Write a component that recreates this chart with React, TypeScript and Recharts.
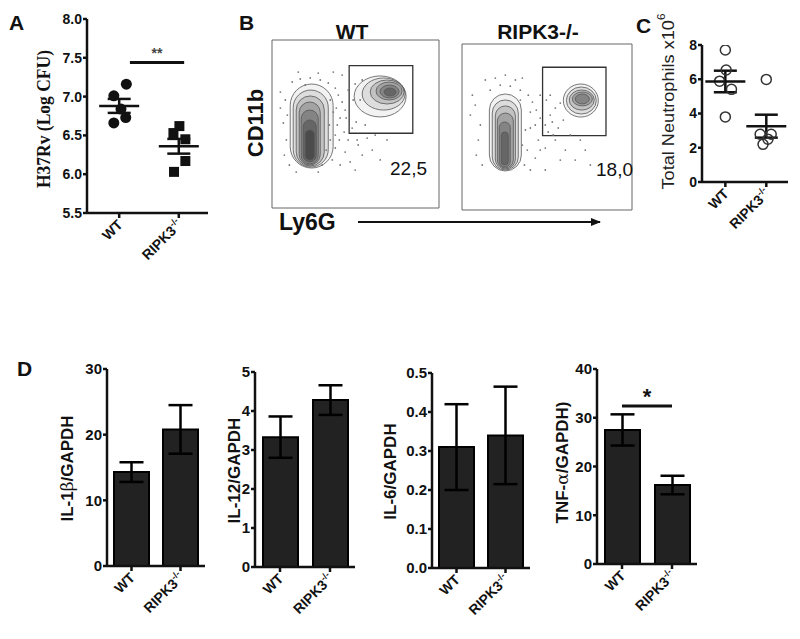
import React from 'react';
import {
  ScatterChart, Scatter, BarChart, Bar, XAxis, YAxis, ErrorBar,
  ReferenceLine, ReferenceArea,
} from 'recharts';

const FONT = 'Arial, "Liberation Sans", sans-serif';
const groups = ['WT', 'RIPK3'];

// A - H37Rv burden (log CFU), points + x jitter
const cfuWT = [7.16, 7.01, 6.84, 6.73, 6.66];
const cfuWTx = [1.12, 0.91, 1.03, 1.11, 0.91];
const cfuKO = [6.62, 6.53, 6.45, 6.17, 6.03];
const cfuKOx = [2.01, 1.91, 2.11, 2.11, 1.92];
const cfuMean = [6.88, 6.36];
const cfuSem = [0.09, 0.095];
const cfuTicks = [5.5, 6, 6.5, 7, 7.5, 8];

// C - total neutrophils x10^6
const neuWT = [7.71, 6.54, 5.89, 5.41, 3.8];
const neuWTx = [1.0, 1.02, 0.86, 1.15, 1.0];
const neuKO = [5.99, 2.79, 2.79, 2.5, 2.2];
const neuKOx = [2.0, 1.85, 2.12, 2.04, 1.92];
const neuMean = [5.87, 3.26];
const neuSem = [0.63, 0.67];
const neuTicks = [0, 2, 4, 6, 8];

// D - cytokine mRNA / GAPDH (mean, sem)
const il1b = [14.3, 20.8];
const il1bErr = [1.5, 3.7];
const il12 = [3.33, 4.28];
const il12Err = [0.53, 0.38];
const il6 = [0.31, 0.34];
const il6Err = [0.11, 0.125];
const tnf = [27.5, 16.2];
const tnfErr = [3.2, 1.9];

// B - flow plots, channel units 0..1000; contour rings [x1, x2, y1, y2]
const gateFreq = ['22,5', '18,0'];
const wtGate = [462, 843, 445, 847];
const koGate = [474, 847, 448, 860];
const wtLeftRings = [
  [109, 366, 238, 738], [127, 337, 244, 702], [145, 313, 250, 667], [163, 289, 256, 631],
  [175, 277, 262, 583], [187, 265, 274, 524], [199, 253, 286, 464],
];
const wtRightRings = [
  [492, 803, 542, 786], [540, 797, 583, 774], [588, 791, 619, 762],
  [623, 779, 643, 750], [647, 761, 655, 732], [671, 743, 667, 714],
];
const koLeftRings = [
  [161, 349, 235, 699], [178, 331, 241, 663], [196, 314, 247, 627],
  [208, 302, 253, 584], [219, 284, 259, 530], [231, 272, 271, 470],
];
const koRightRings = [
  [596, 802, 560, 759], [614, 790, 578, 741], [631, 778, 602, 723],
  [649, 767, 627, 711], [666, 749, 639, 699],
];
const wtEvents = [
  [50, 595], [80, 643], [92, 553], [68, 506], [121, 750], [169, 768], [229, 774], [289, 762],
  [337, 744], [379, 714], [397, 672], [420, 631], [438, 583], [408, 536], [391, 494], [432, 452],
  [456, 405], [480, 476], [504, 512], [403, 405], [379, 357], [438, 333], [516, 375], [540, 315],
  [600, 345], [648, 286], [468, 274], [361, 286], [349, 405], [385, 595], [456, 702], [498, 738],
  [540, 762], [367, 809], [277, 803], [157, 809], [510, 405], [570, 416], [444, 536], [486, 643],
  [349, 643], [367, 571], [343, 494], [379, 434], [325, 345], [301, 256], [408, 256], [498, 226],
  [86, 405], [74, 315], [104, 256], [145, 214], [277, 214], [528, 643], [558, 494], [420, 791],
  [199, 732], [50, 690], [618, 434], [689, 405],
];
const koEvents = [
  [49, 572], [78, 632], [108, 512], [166, 722], [225, 752], [284, 746], [343, 722], [390, 692],
  [414, 650], [437, 602], [460, 554], [490, 512], [519, 572], [549, 614], [578, 644], [507, 470],
  [449, 421], [402, 494], [384, 361], [431, 313], [490, 373], [549, 421], [608, 361], [666, 301],
  [725, 361], [367, 271], [402, 590], [460, 692], [531, 530], [566, 494], [355, 795], [255, 813],
  [137, 783], [596, 542], [637, 452], [496, 662],
  [96, 421], [84, 331], [119, 271], [373, 482], [355, 391], [402, 241], [490, 241], [578, 301],
  [519, 692], [314, 783], [196, 795], [61, 692], [696, 421], [755, 271], [460, 361], [343, 662],
  [537, 452], [431, 512],
];
const wtYTicks = [71, 216, 341, 593, 802];
const koYTicks = [80, 211, 347, 592, 808];
const flowXTicks = [229, 557, 867];

const pts = (ys: number[], xs: number[]) => ys.map((y, i) => ({ x: xs[i], y }));
const means = (m: number[], s: number[]) => m.map((y, i) => ({ x: i + 1, y, e: s[i] }));
const bars = (v: number[], e: number[]) => groups.map((g, i) => ({ name: g, value: v[i], err: e[i] }));

const axisLine = { stroke: '#111', strokeWidth: 2.5 };
const tickText = { fontSize: 14, fontWeight: 'bold', fill: '#111', fontFamily: FONT };
const tickTextD = { ...tickText, fontSize: 15 };

function GroupTick({ x, y, payload }: any) {
  const v = payload.value;
  const name = typeof v === 'number' ? groups[v - 1] : v;
  return (
    <g transform={`translate(${x},${y})`}>
      <text x={-1} y={7} textAnchor="end" transform="rotate(-45)" fontSize={14}
        fontWeight="bold" fontFamily={FONT} fill="#111">
        {name === 'WT' ? 'WT' : (<>RIPK3<tspan fontSize={9} dy={-6}>-/-</tspan></>)}
      </text>
    </g>
  );
}

const yTitle = (content: React.ReactNode, dx: number, dy: number, style: any) => ({
  content: ({ viewBox }: any) => {
    const vb = viewBox || { x: 0, y: 0, width: 0, height: 0 };
    const cx = vb.x + dx;
    const cy = vb.y + vb.height / 2 + dy;
    return (
      <text x={cx} y={cy} transform={`rotate(-90 ${cx} ${cy})`} textAnchor="middle"
        dominantBaseline="central" {...style}>{content}</text>
    );
  },
});

const meanShape = (p: any) => (
  <line x1={p.cx - 20} x2={p.cx + 20} y1={p.cy} y2={p.cy} stroke="#111" strokeWidth={2.5} />
);

function DotPanel({ left, width, height, margin, yWidth, xDomain, yDomain, ticks, fmt, wt, ko,
  m, sig, title, wtShape, koShape }: any) {
  return (
    <div style={{ position: 'absolute', left, top: 0 }}>
      <ScatterChart width={width} height={height} margin={margin}>
        <XAxis type="number" dataKey="x" domain={xDomain} ticks={[1, 2]} interval={0} height={70}
          axisLine={axisLine} tickLine={axisLine} tickSize={5} tick={<GroupTick />} allowDataOverflow />
        <YAxis type="number" dataKey="y" domain={yDomain} ticks={ticks} interval={0} width={yWidth}
          axisLine={axisLine} tickLine={axisLine} tickSize={4} tickMargin={1} tick={tickText}
          tickFormatter={fmt} label={title} allowDataOverflow />
        <ReferenceLine segment={sig.seg} stroke="#111" strokeWidth={3}
          label={{ value: sig.text, position: 'top', offset: 4, fontSize: 14, fill: '#444', fontWeight: 'bold' }} />
        <Scatter data={wt} shape={wtShape} isAnimationActive={false} />
        <Scatter data={ko} shape={koShape} isAnimationActive={false} />
        <Scatter data={m} shape={meanShape} isAnimationActive={false}>
          <ErrorBar dataKey="e" direction="y" width={11.5} stroke="#111" strokeWidth={2.5} />
        </Scatter>
      </ScatterChart>
    </div>
  );
}

function BarPanel({ left, width, yWidth, plotTop, plotBottom, data, domain, ticks, fmt, title, sig }: any) {
  const top = 360;
  const height = 279;
  const mb = 639 - plotBottom - 64;
  return (
    <div style={{ position: 'absolute', left, top }}>
      <BarChart width={width} height={height} data={data}
        margin={{ top: plotTop - top, right: 5, bottom: mb, left: 0 }}>
        <XAxis dataKey="name" height={64} axisLine={axisLine} tickLine={axisLine} tickSize={5}
          tick={<GroupTick />} interval={0} />
        <YAxis domain={domain} ticks={ticks} interval={0} width={yWidth} axisLine={axisLine}
          tickLine={axisLine} tickSize={4} tickMargin={1} tick={tickTextD} tickFormatter={fmt}
          label={title} allowDataOverflow />
        <Bar dataKey="value" barSize={35} fill="#222" stroke="#000" strokeWidth={2} isAnimationActive={false}>
          <ErrorBar dataKey="err" width={12} stroke="#000" strokeWidth={2.5} />
        </Bar>
        {sig && (
          <ReferenceLine segment={sig} stroke="#111" strokeWidth={3}
            label={{ value: '*', position: 'top', offset: 2, fontSize: 22, fill: '#111', fontWeight: 'bold' }} />
        )}
      </BarChart>
    </div>
  );
}

// contour rings get darker towards the core
const ringStyle = (i: number) => ({
  fill: '#000', fillOpacity: 0.05 + i * 0.035, stroke: '#555', strokeWidth: 0.8,
});
const stadium = (i: number) => (p: any) => (
  <rect x={p.x} y={p.y} width={p.width} height={p.height} rx={p.width / 2} ry={p.width / 2} {...ringStyle(i)} />
);
const oval = (i: number) => (p: any) => (
  <ellipse cx={p.x + p.width / 2} cy={p.y + p.height / 2} rx={p.width / 2} ry={p.height / 2} {...ringStyle(i)} />
);
const eventDot = (p: any) => <circle cx={p.cx} cy={p.cy} r={0.9} fill="#777" />;
const blank = () => <g />;

function FlowPlot({ left, top, width, height, margin, gate, leftRings, rightRings, events, yTicks }: any) {
  const thin = { stroke: '#555', strokeWidth: 1 };
  return (
    <div style={{ position: 'absolute', left, top }}>
      <ScatterChart width={width} height={height} margin={margin}>
        <XAxis type="number" dataKey="x" domain={[0, 1000]} ticks={flowXTicks} height={0}
          axisLine={thin} tickLine={thin} tickSize={3} tick={blank} />
        <YAxis type="number" dataKey="y" domain={[0, 1000]} ticks={yTicks} width={0}
          axisLine={thin} tickLine={thin} tickSize={3} tick={blank} />
        <ReferenceArea x1={0} x2={1000} y1={0} y2={1000} fill="none" stroke="#666" strokeWidth={1} />
        <Scatter data={events.map(([x, y]: number[]) => ({ x, y }))} shape={eventDot} isAnimationActive={false} />
        {leftRings.map((r: number[], i: number) => (
          <ReferenceArea key={'l' + i} x1={r[0]} x2={r[1]} y1={r[2]} y2={r[3]} shape={stadium(i)} />
        ))}
        {rightRings.map((r: number[], i: number) => (
          <ReferenceArea key={'r' + i} x1={r[0]} x2={r[1]} y1={r[2]} y2={r[3]} shape={oval(i)} />
        ))}
        <ReferenceArea x1={gate[0]} x2={gate[1]} y1={gate[2]} y2={gate[3]} fill="none" stroke="#333" strokeWidth={1.3} />
      </ScatterChart>
    </div>
  );
}

const dTitle = { fontSize: 17, fontWeight: 'bold', fill: '#111', fontFamily: FONT };
const greek = { fontWeight: 'normal', fontFamily: '"DejaVu Serif", serif' };

export default function App() {
  const f1 = (v: number) => v.toFixed(1);
  return (
    <div style={{ position: 'absolute', left: 0, top: 0, width: 800, height: 639, background: '#fff', fontFamily: FONT }}>
      <DotPanel left={0} width={215} height={290} margin={{ top: 19, right: 7, bottom: 7, left: 0 }}
        yWidth={87} xDomain={[0.46, 2.49]} yDomain={[5.5, 8]} ticks={cfuTicks} fmt={f1}
        wt={pts(cfuWT, cfuWTx)} ko={pts(cfuKO, cfuKOx)} m={means(cfuMean, cfuSem)}
        sig={{ seg: [{ x: 1.18, y: 7.44 }, { x: 2.09, y: 7.44 }], text: '**' }}
        title={yTitle('H37Rv (Log CFU)', 43, 3,
          { fontSize: 19, fontWeight: 'bold', fill: '#111', textLength: 138, lengthAdjust: 'spacingAndGlyphs',
            fontFamily: '"Liberation Serif", "Times New Roman", serif' })}
        wtShape={(p: any) => <circle cx={p.cx} cy={p.cy} r={5.5} fill="#111" />}
        koShape={(p: any) => <rect x={p.cx - 5} y={p.cy - 5} width={10} height={10} fill="#111" />} />

      <FlowPlot left={262} top={30} width={185} height={185} margin={{ top: 10, right: 8, bottom: 7, left: 10 }}
        gate={wtGate} leftRings={wtLeftRings} rightRings={wtRightRings} events={wtEvents} yTicks={wtYTicks} />
      <FlowPlot left={452} top={34} width={188} height={183} margin={{ top: 10, right: 8, bottom: 7, left: 10 }}
        gate={koGate} leftRings={koLeftRings} rightRings={koRightRings} events={koEvents} yTicks={koYTicks} />

      <DotPanel left={640} width={155} height={260} margin={{ top: 45, right: 7, bottom: 8, left: 0 }}
        yWidth={62} xDomain={[0.43, 2.53]} yDomain={[0, 8]} ticks={neuTicks} fmt={(v: number) => String(v)}
        wt={pts(neuWT, neuWTx)} ko={pts(neuKO, neuKOx)} m={means(neuMean, neuSem)}
        sig={{ seg: [{ x: 0.95, y: 8.29 }, { x: 2.13, y: 8.29 }], text: '*' }}
        title={yTitle(<>Total Neutrophils x10<tspan fontSize={11} dy={-7}>6</tspan></>, 28, -12,
          { fontSize: 17, fill: '#222', fontFamily: FONT, textLength: 176, lengthAdjust: 'spacingAndGlyphs' })}
        wtShape={(p: any) => <circle cx={p.cx} cy={p.cy} r={5} fill="none" stroke="#333" strokeWidth={1.5} />}
        koShape={(p: any) => <circle cx={p.cx} cy={p.cy} r={5} fill="none" stroke="#333" strokeWidth={1.5} />} />

      <BarPanel left={0} width={210} yWidth={107} plotTop={369} plotBottom={566} data={bars(il1b, il1bErr)}
        domain={[0, 30]} ticks={[0, 10, 20, 30]}
        title={yTitle(<>IL-1<tspan {...greek}>β</tspan>/GAPDH</>, 67, 1, dTitle)} />
      <BarPanel left={150} width={210} yWidth={105} plotTop={372} plotBottom={567} data={bars(il12, il12Err)}
        domain={[0, 5]} ticks={[0, 1, 2, 3, 4, 5]}
        title={yTitle('IL-12/GAPDH', 84, 1, dTitle)} />
      <BarPanel left={330} width={205} yWidth={102} plotTop={373} plotBottom={568} data={bars(il6, il6Err)}
        domain={[0, 0.5]} ticks={[0, 0.1, 0.2, 0.3, 0.4, 0.5]} fmt={f1}
        title={yTitle('IL-6/GAPDH', 60, 1, dTitle)} />
      <BarPanel left={490} width={212} yWidth={107} plotTop={369} plotBottom={564} data={bars(tnf, tnfErr)}
        domain={[0, 40]} ticks={[0, 10, 20, 30, 40]}
        sig={[{ x: 'WT', y: 32.4 }, { x: 'RIPK3', y: 32.4 }]}
        title={yTitle(<>TNF-<tspan {...greek}>α</tspan>/GAPDH)</>, 72, -4, dTitle)} />

      <svg width={800} height={639} style={{ position: 'absolute', left: 0, top: 0, pointerEvents: 'none' }}>
        <defs>
          <marker id="arrowHead" markerWidth="10" markerHeight="8" refX="9" refY="4" orient="auto" markerUnits="userSpaceOnUse">
            <path d="M0,0 L10,4 L0,8 Z" fill="#111" />
          </marker>
        </defs>
        <g fontFamily={FONT} fontWeight="bold" fill="#111" fontSize={21}>
          <text x={9} y={30}>A</text>
          <text x={239} y={30}>B</text>
          <text x={636} y={33}>C</text>
          <text x={17} y={376}>D</text>
          <text x={352} y={39} textAnchor="middle">WT</text>
          <text x={538} y={39} textAnchor="middle">RIPK3-/-</text>
          <text x={255} y={123} fontSize={22} textAnchor="middle" dominantBaseline="central"
            transform="rotate(-90 255 123)">CD11b</text>
          <text x={279} y={230} fontSize={23}>Ly6G</text>
        </g>
        <line x1={358} y1={222} x2={600} y2={222} stroke="#111" strokeWidth={2} markerEnd="url(#arrowHead)" />
        <g fontFamily={FONT} fill="#111" fontSize={19}>
          <text x={427} y={175} textAnchor="end">{gateFreq[0]}</text>
          <text x={633} y={176} textAnchor="end">{gateFreq[1]}</text>
        </g>
      </svg>
    </div>
  );
}
